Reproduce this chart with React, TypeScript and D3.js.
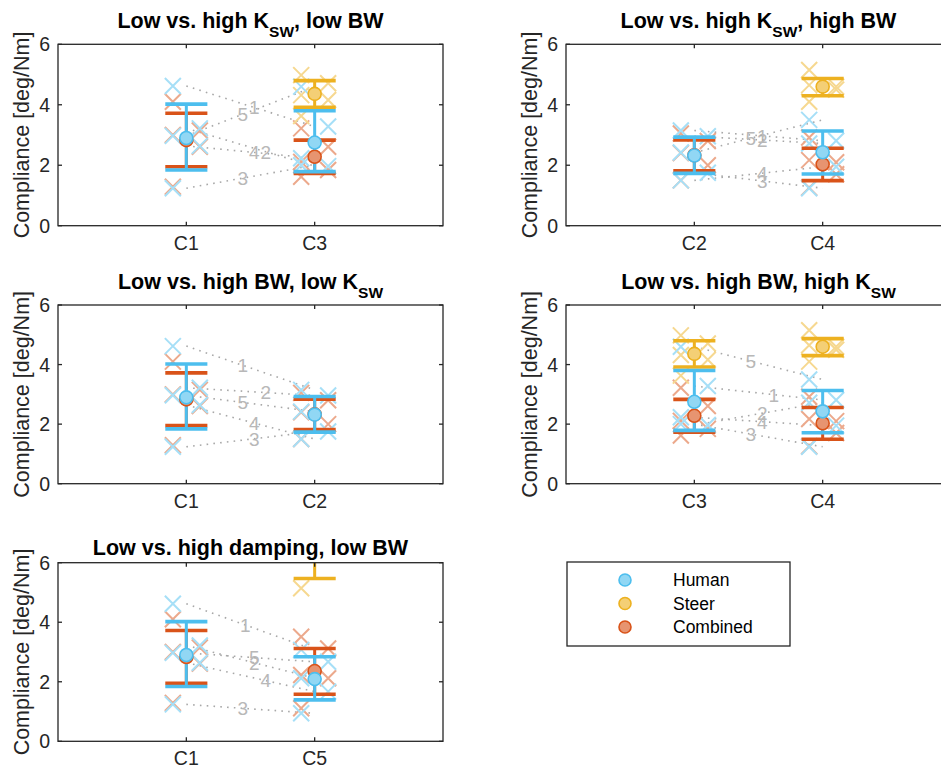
import React, { useRef, useEffect } from 'react';
import * as d3 from 'd3';

// subjects, conditions and axis ticks
const subjects = ['1', '2', '3', '4', '5'];
const yTicks = [0, 2, 4, 6];

// individual compliance per condition, subject 1..5
const humanValues: Record<string, number[]> = {
  C1: [4.62, 3.22, 1.24, 2.64, 2.97],
  C2: [3.15, 2.96, 1.75, 1.5, 2.42],
  C3: [3.28, 1.97, 2.0, 2.23, 4.6],
  C4: [2.81, 2.72, 1.24, 1.95, 3.5],
  C5: [3.07, 2.12, 0.94, 1.67, 2.67],
};
const steerValues: Record<string, number[]> = {
  C3: [4.71, 4.16, 3.63, 4.32, 4.98],
  C4: [4.6, 4.65, 4.1, 4.5, 5.15],
  C5: [6.6, 7.1, 5.14, 7.4, 7.2],
};
const combinedValues: Record<string, number[]> = {
  C1: [4.1, 3.15, 1.29, 2.61, 3.0],
  C2: [3.05, 2.8, 2.0, 1.5, 2.4],
  C3: [2.61, 1.84, 1.62, 2.11, 3.22],
  C4: [2.1, 2.17, 1.26, 1.7, 2.92],
  C5: [3.51, 2.23, 1.11, 2.12, 3.12],
};
// which side of the condition each subject's cross sits on
const jitterSide: Record<string, number[]> = {
  C1: [-1, 1, -1, 1, -1],
  C2: [-1, 1, 1, -1, -1],
  C3: [1, 1, -1, -1, -1],
  C4: [1, -1, -1, 1, -1],
  C5: [-1, -1, -1, 1, 1],
};

// [mean, lower, upper] per condition
const humanStats: Record<string, number[]> = {
  C1: [2.9, 1.84, 4.02],
  C2: [2.32, 1.73, 2.93],
  C3: [2.75, 1.79, 3.8],
  C4: [2.43, 1.71, 3.13],
  C5: [2.09, 1.39, 2.84],
};
const steerStats: Record<string, number[]> = {
  C3: [4.36, 3.92, 4.8],
  C4: [4.6, 4.3, 4.87],
  C5: [6.7, 5.47, 7.93],
};
const combinedStats: Record<string, number[]> = {
  C1: [2.83, 1.95, 3.72],
  C2: [2.33, 1.82, 2.84],
  C3: [2.28, 1.73, 2.83],
  C4: [2.03, 1.49, 2.56],
  C5: [2.36, 1.58, 3.12],
};

// panels: compared conditions, titles, where the subject number sits along its line
const panelPairs = [['C1', 'C3'], ['C2', 'C4'], ['C1', 'C2'], ['C3', 'C4'], ['C1', 'C5']];
const panelTitles = [
  ['Low vs. high K', 'SW', ', low BW'],
  ['Low vs. high K', 'SW', ', high BW'],
  ['Low vs. high BW, low K', 'SW', ''],
  ['Low vs. high BW, high K', 'SW', ''],
  ['Low vs. high damping, low BW', '', ''],
];
const labelFractions = [
  [0.53, 0.62, 0.44, 0.53, 0.44],
  [0.53, 0.53, 0.53, 0.53, 0.44],
  [0.44, 0.62, 0.53, 0.53, 0.44],
  [0.62, 0.53, 0.44, 0.53, 0.44],
  [0.46, 0.53, 0.44, 0.62, 0.53],
];

const legendLabels = ['Human', 'Steer', 'Combined'];
const colors = { Human: '#4DBEEE', Steer: '#EDB120', Combined: '#D95319' };

const FONT = 'Liberation Sans, Arial, Helvetica, sans-serif';
const AXIS = '#262626';

const App = () => {
  const svgRef = useRef<SVGSVGElement>(null);

  useEffect(() => {
    const svg = d3.select(svgRef.current);
    svg.selectAll('*').remove();

    // axes boxes (left, top, bottom)
    const boxes = [
      { left: 58, top: 44.3, bottom: 225.7 },
      { left: 566, top: 44.3, bottom: 225.7 },
      { left: 58, top: 305, bottom: 483.7 },
      { left: 566, top: 305, bottom: 483.7 },
      { left: 58, top: 562.7, bottom: 741.3 },
    ];
    const boxWidth = 385;
    const capHalf = 0.164;
    const jitter = 0.105;
    const crossHalf = 8;

    const groups = [
      { name: 'Combined', values: combinedValues, stats: combinedStats },
      { name: 'Steer', values: steerValues, stats: steerStats },
      { name: 'Human', values: humanValues, stats: humanStats },
    ];

    const light = (c, t) => d3.interpolateRgb(c, '#ffffff')(t);

    boxes.forEach((box, i) => {
      const x = d3.scaleLinear().domain([0, 3]).range([box.left, box.left + boxWidth]);
      const y = d3.scaleLinear().domain([0, 6]).range([box.bottom, box.top]);
      const pair = panelPairs[i];

      svg.append('clipPath')
        .attr('id', `clip-${i}`)
        .append('rect')
        .attr('x', box.left)
        .attr('y', box.top)
        .attr('width', boxWidth)
        .attr('height', box.bottom - box.top);

      const g = svg.append('g').attr('clip-path', `url(#clip-${i})`);

      // dotted subject lines with their numbers
      subjects.forEach((s, k) => {
        const v0 = humanValues[pair[0]][k];
        const v1 = humanValues[pair[1]][k];
        g.append('line')
          .attr('x1', x(1)).attr('y1', y(v0))
          .attr('x2', x(2)).attr('y2', y(v1))
          .attr('stroke', '#a8a8a8')
          .attr('stroke-width', 1.6)
          .attr('stroke-dasharray', '1.6 5.2');
        const t = labelFractions[i][k];
        g.append('text')
          .attr('x', x(1 + t))
          .attr('y', y(v0 + (v1 - v0) * t))
          .attr('dy', '0.36em')
          .attr('text-anchor', 'middle')
          .attr('font-family', FONT)
          .attr('font-size', 19)
          .attr('fill', '#b8b8b8')
          .text(s);
      });

      // individual crosses (opaque light tints)
      groups.forEach(grp => {
        pair.forEach((cond, j) => {
          const vals = grp.values[cond];
          if (!vals) return;
          vals.forEach((v, k) => {
            const px = x(j + 1 + jitter * jitterSide[cond][k]);
            const py = y(v);
            g.append('path')
              .attr('d', `M${px - crossHalf},${py - crossHalf}L${px + crossHalf},${py + crossHalf}M${px - crossHalf},${py + crossHalf}L${px + crossHalf},${py - crossHalf}`)
              .attr('stroke', light(colors[grp.name], 0.5))
              .attr('stroke-width', 2);
          });
        });
      });

      // error bars
      groups.forEach(grp => {
        pair.forEach((cond, j) => {
          const st = grp.stats[cond];
          if (!st) return;
          const cx = j + 1;
          const col = colors[grp.name];
          g.append('line')
            .attr('x1', x(cx)).attr('x2', x(cx))
            .attr('y1', y(st[1])).attr('y2', y(st[2]))
            .attr('stroke', col).attr('stroke-width', 3);
          [st[1], st[2]].forEach(v => {
            g.append('line')
              .attr('x1', x(cx - capHalf)).attr('x2', x(cx + capHalf))
              .attr('y1', y(v)).attr('y2', y(v))
              .attr('stroke', col).attr('stroke-width', 3.6);
          });
        });
      });

      // means
      groups.forEach(grp => {
        pair.forEach((cond, j) => {
          const st = grp.stats[cond];
          if (!st) return;
          const col = colors[grp.name];
          g.append('circle')
            .attr('cx', x(j + 1)).attr('cy', y(st[0]))
            .attr('r', 6.5)
            .attr('fill', light(col, 0.38))
            .attr('stroke', col)
            .attr('stroke-width', 1.6);
        });
      });

      // axes box and ticks
      const right = box.left + boxWidth;
      svg.append('rect')
        .attr('x', box.left).attr('y', box.top)
        .attr('width', boxWidth).attr('height', box.bottom - box.top)
        .attr('fill', 'none').attr('stroke', AXIS).attr('stroke-width', 1.3);

      yTicks.forEach(v => {
        svg.append('line').attr('x1', box.left).attr('x2', box.left + 4)
          .attr('y1', y(v)).attr('y2', y(v)).attr('stroke', AXIS).attr('stroke-width', 1.3);
        svg.append('line').attr('x1', right).attr('x2', right - 4)
          .attr('y1', y(v)).attr('y2', y(v)).attr('stroke', AXIS).attr('stroke-width', 1.3);
        svg.append('text')
          .attr('x', box.left - 8).attr('y', y(v)).attr('dy', '0.36em')
          .attr('text-anchor', 'end')
          .attr('font-family', FONT).attr('font-size', 19.5).attr('fill', AXIS)
          .text(v);
      });

      pair.forEach((cond, j) => {
        svg.append('line').attr('x1', x(j + 1)).attr('x2', x(j + 1))
          .attr('y1', box.bottom).attr('y2', box.bottom - 4).attr('stroke', AXIS).attr('stroke-width', 1.3);
        svg.append('line').attr('x1', x(j + 1)).attr('x2', x(j + 1))
          .attr('y1', box.top).attr('y2', box.top + 4).attr('stroke', AXIS).attr('stroke-width', 1.3);
        svg.append('text')
          .attr('x', x(j + 1)).attr('y', box.bottom + 24)
          .attr('text-anchor', 'middle')
          .attr('font-family', FONT).attr('font-size', 19.5).attr('fill', AXIS)
          .text(cond);
      });

      // y label
      const midY = (box.top + box.bottom) / 2;
      svg.append('text')
        .attr('transform', `translate(${box.left - 29},${midY}) rotate(-90)`)
        .attr('text-anchor', 'middle')
        .attr('font-family', FONT).attr('font-size', 21.5).attr('fill', AXIS)
        .text('Compliance [deg/Nm]');

      // title
      const [pre, sub, post] = panelTitles[i];
      const title = svg.append('text')
        .attr('x', (box.left + right) / 2)
        .attr('y', sub ? box.top - 16 : box.top - 8)
        .attr('text-anchor', 'middle')
        .attr('font-family', FONT).attr('font-size', 21.5)
        .attr('font-weight', 'bold').attr('fill', '#000');
      title.append('tspan').text(pre);
      if (sub) {
        title.append('tspan').attr('dy', 9).attr('font-size', 15.5).text(sub);
        if (post) title.append('tspan').attr('dy', -9).text(post);
      }
    });

    // legend
    const legend = svg.append('g');
    legend.append('rect')
      .attr('x', 567).attr('y', 562).attr('width', 223).attr('height', 84)
      .attr('fill', '#fff').attr('stroke', AXIS).attr('stroke-width', 1.3);
    legendLabels.forEach((name, k) => {
      const ly = 580 + k * 23.5;
      legend.append('circle')
        .attr('cx', 625).attr('cy', ly).attr('r', 6)
        .attr('fill', light(colors[name], 0.38))
        .attr('stroke', colors[name]).attr('stroke-width', 1.6);
      legend.append('text')
        .attr('x', 673).attr('y', ly).attr('dy', '0.36em')
        .attr('font-family', FONT).attr('font-size', 17.5).attr('fill', '#000')
        .text(name);
    });
  }, []);

  return (
    <svg
      ref={svgRef}
      width={941}
      height={769}
      style={{ position: 'absolute', left: 0, top: 0, background: '#fff' }}
    />
  );
};

export default App;
